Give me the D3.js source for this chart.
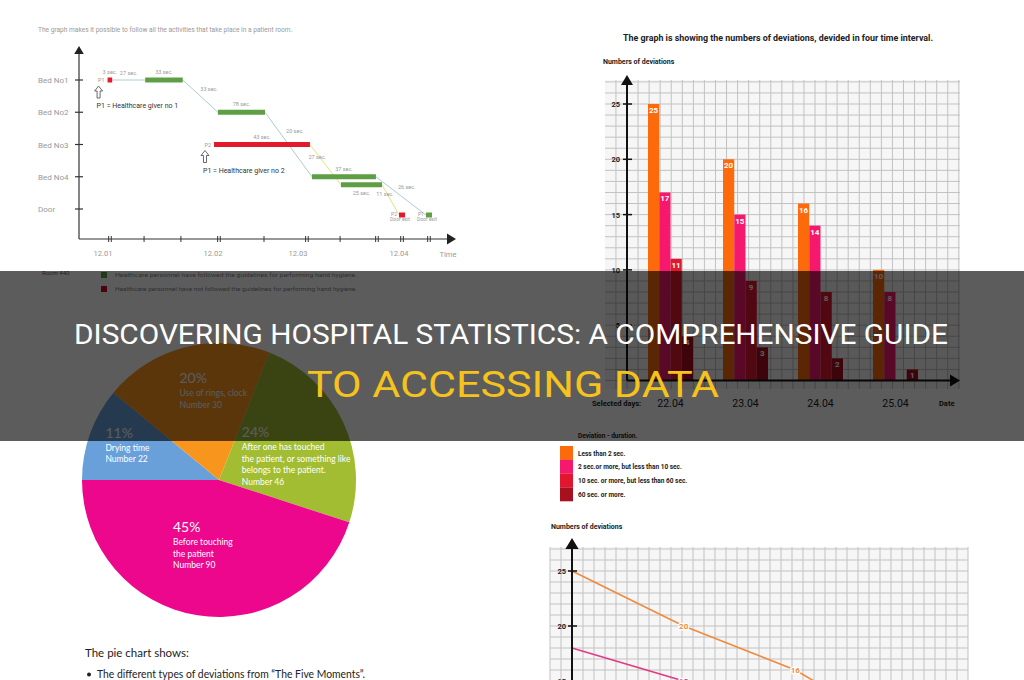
<!DOCTYPE html>
<html>
<head>
<meta charset="utf-8">
<title>Discovering hospital statistics</title>
<script src="https://d3js.org/d3.v7.min.js"></script>
<style>
  body { margin: 0; background: #fff; }
  svg { display: block; font-family: Roboto, "Liberation Sans", sans-serif; }
</style>
</head>
<body>
<div id="chart"></div>
<script>
// ---- timeline (room 440) ----
const beds = ["Bed No1", "Bed No2", "Bed No3", "Bed No4", "Door"];
const timeLabels = ["12.01", "12.02", "12.03", "12.04"];
const timeSecs = [60, 120, 180, 240];          // seconds after 12:00
const tickSecs = [63.8, 82.4, 102.5, 124.2, 156, 185.3, 205, 226.9, 241.8, 257.8];
const tickDouble = [true, false, false, true, false, true, false, true, true, true];

const actWho = ["P1", "P1", "P1", "P2", "P1", "P2", "P2", "P1"];
const actBed = ["Bed No1", "Bed No1", "Bed No2", "Bed No3", "Bed No4", "Bed No4", "Door", "Door"];
const actStart = [62.5, 83, 123.5, 120.7, 188.3, 205.5, 240, 256];
const actEnd = [65, 103.5, 156.7, 187.1, 226.3, 229.9, 243.6, 259.6];
const actFollowed = [false, true, true, false, true, true, false, true];
const actLabel = ["3 sec.", "33 sec.", "78 sec.", "43 sec.", "37 sec.", "25 sec.", "", ""];
const moveLabels = { P1: ["27 sec.", "33 sec.", "20 sec.", "26 sec."], P2: ["27 sec.", "11 sec."] };
const giverText = { P1: "P1 = Healthcare giver no 1", P2: "P1 = Healthcare giver no 2" };
const legendTexts = [
  "Healthcare personnel have followed the guidelines for performing hand hygiene.",
  "Healthcare personnel have not followed the guidelines for performing hand hygiene."
];

// ---- bar chart ----
const days = ["22.04", "23.04", "24.04", "25.04"];
const durations = ["Less than 2 sec.", "2 sec.or more, but less than 10 sec.",
  "10 sec. or more, but less than 60 sec.", "60 sec. or more."];
const lessThan2 = [25, 20, 16, 10];
const from2to10 = [17, 15, 14, 8];
const from10to60 = [11, 9, 8, 0];
const over60 = [4, 3, 2, 1];
const durColors = ["#fc6a0c", "#f5186c", "#e2172f", "#a8101f"];
const barTicks = [5, 10, 15, 20, 25];

// ---- pie ----
const pieNames = [["Drying time"], ["Use of rings, clock"],
  ["After one has touched", "the patient, or something like", "belongs to the patient."],
  ["Before touching", "the patient"]];
const piePercents = [11, 20, 24, 45];
const pieNumbers = [22, 30, 46, 90];
const pieColors = ["#6aa0da", "#f8951d", "#a2bd32", "#ec078c"];

// ---- line chart ----
const lineLess2 = [25, 20, 16, 10];
const line2to10 = [18, 15, 14, 8];
const lineColors = ["#f08a3c", "#e33a86"];
const lineTicks = [15, 20, 25];

const svg = d3.select("#chart").append("svg").attr("width", 1024).attr("height", 680);

function arrowHead(g, x, y, dir, size, color) {
  const s = size;
  const pts = dir === "up" ? [[x, y], [x - s * 0.6, y + s], [x + s * 0.6, y + s]]
    : [[x, y], [x - s, y - s * 0.6], [x - s, y + s * 0.6]];
  g.append("path").attr("d", d3.line()(pts) + "Z").attr("fill", color);
}

// =========== TIMELINE ===========
const tl = svg.append("g");
const xT = d3.scaleLinear().domain(timeSecs).range([103, 213, 298, 399]);
const yT = d3.scalePoint().domain(beds).range([80, 209]);

tl.append("text").attr("x", 38).attr("y", 32).attr("font-size", 6.6).attr("fill", "#999")
  .text("The graph makes it possible to follow all the activities that take place in a patient room.");

tl.append("line").attr("x1", 79).attr("x2", 79).attr("y1", 239).attr("y2", 52)
  .attr("stroke", "#333").attr("stroke-width", 1.2);
arrowHead(tl, 79, 46, "up", 8, "#222");
tl.append("line").attr("x1", 79).attr("x2", 450).attr("y1", 239).attr("y2", 239)
  .attr("stroke", "#333").attr("stroke-width", 1.2);
arrowHead(tl, 456, 239, "right", 9, "#222");

tl.selectAll(".bedlab").data(beds).join("text")
  .attr("x", 38).attr("y", d => yT(d) + 3).attr("font-size", 8).attr("fill", "#999").text(d => d);
tl.selectAll(".ytick").data(beds).join("line")
  .attr("x1", 75).attr("x2", 83).attr("y1", d => yT(d)).attr("y2", d => yT(d))
  .attr("stroke", "#333").attr("stroke-width", 1.2);

tickSecs.forEach((s, i) => {
  const offs = tickDouble[i] ? [-1.3, 1.3] : [0];
  offs.forEach(o => tl.append("line").attr("x1", xT(s) + o).attr("x2", xT(s) + o)
    .attr("y1", 236).attr("y2", 242).attr("stroke", "#333").attr("stroke-width", 1));
});
tl.selectAll(".tlab").data(timeLabels).join("text")
  .attr("x", (d, i) => xT(timeSecs[i])).attr("y", 256).attr("text-anchor", "middle")
  .attr("font-size", 7.5).attr("fill", "#999").text(d => d);
tl.append("text").attr("x", 448).attr("y", 257).attr("text-anchor", "middle")
  .attr("font-size", 7.5).attr("fill", "#999").text("Time");

const acts = actWho.map((w, i) => ({ who: w, bed: actBed[i], start: actStart[i], end: actEnd[i],
  ok: actFollowed[i], label: actLabel[i], i }));
acts.forEach(a => {
  a.lane = acts.filter(b => b.i < a.i && b.bed === a.bed && b.start < a.end && a.start < b.end).length;
  a.y = yT(a.bed) + a.lane * 8 + (a.bed === "Door" ? 6 : 0);
});

// movement lines
["P1", "P2"].forEach(who => {
  const seq = acts.filter(a => a.who === who).sort((a, b) => a.start - b.start);
  for (let k = 0; k < seq.length - 1; k++) {
    const x1 = xT(seq[k].end), y1 = seq[k].y, x2 = xT(seq[k + 1].start), y2 = seq[k + 1].y;
    tl.append("line").attr("x1", x1).attr("y1", y1).attr("x2", x2).attr("y2", y2)
      .attr("stroke", who === "P1" ? "#aecbd8" : "#e6e27c").attr("stroke-width", 1);
    const t = y1 === y2 ? 0.5 : 0.3;
    const mx = x1 + (x2 - x1) * t, my = y1 + (y2 - y1) * t;
    const lab = tl.append("text").attr("font-size", 5.5).attr("fill", "#999").text(moveLabels[who][k]);
    if (y1 === y2) lab.attr("x", mx).attr("y", my - 5).attr("text-anchor", "middle");
    else if (who === "P1") lab.attr("x", mx + 7).attr("y", my + 1);
    else lab.attr("x", mx - 2).attr("y", my + 2).attr("text-anchor", "middle");
  }
});

// activity bars
acts.forEach(a => {
  const x0 = xT(a.start), x1 = xT(a.end);
  tl.append("rect").attr("x", x0).attr("y", a.y - 2.5).attr("width", x1 - x0).attr("height", 5)
    .attr("fill", a.ok ? "#5e9f45" : "#e31a2c");
  if (a.label) {
    tl.append("text").attr("x", (x0 + x1) / 2).attr("y", a.lane ? a.y + 10 : a.y - 6)
      .attr("text-anchor", "middle").attr("font-size", 5.5).attr("fill", "#999").text(a.label);
  }
});

// person labels
["P1", "P2"].forEach(who => {
  const seq = acts.filter(a => a.who === who).sort((a, b) => a.start - b.start);
  const first = seq[0], last = seq[seq.length - 1];
  const fx = xT(first.start);
  tl.append("text").attr("x", fx - 3).attr("y", first.y + 2).attr("text-anchor", "end")
    .attr("font-size", 5.5).attr("fill", "#999").text(who);
  const ax = fx - 9, ay = first.y + 6;
  tl.append("path")
    .attr("d", `M${ax},${ay} l-4,5 h2.5 v7 h3 v-7 h2.5 Z`)
    .attr("fill", "none").attr("stroke", "#444").attr("stroke-width", 0.8);
  tl.append("text").attr("x", fx - 11).attr("y", first.y + 28).attr("font-size", 7)
    .attr("fill", "#333").text(giverText[who]);
  const lx = xT(last.start);
  tl.append("text").attr("x", lx - 2).attr("y", last.y + 1).attr("text-anchor", "end")
    .attr("font-size", 5).attr("fill", "#999").text(who);
  tl.append("text").attr("x", lx + 1).attr("y", last.y + 6).attr("text-anchor", "middle")
    .attr("font-size", 5).attr("fill", "#999").text("Door exit");
});

// room legend
tl.append("text").attr("x", 42).attr("y", 275).attr("font-size", 6).attr("fill", "#666").text("Room 440");
legendTexts.forEach((t, i) => {
  tl.append("rect").attr("x", 101).attr("y", 272 + i * 14).attr("width", 6).attr("height", 6)
    .attr("fill", i === 0 ? "#5e9f45" : "#c8102e");
  tl.append("text").attr("x", 115).attr("y", 277 + i * 14).attr("font-size", 5.5)
    .attr("fill", "#888").attr("textLength", 242).attr("lengthAdjust", "spacingAndGlyphs").text(t);
});

// =========== GRID HELPER ===========
function grid(g, x0, x1, y0, y1, ox, oy, cell) {
  const xs = [], ys = [];
  for (let k = Math.ceil((x0 - ox) / cell); ox + k * cell <= x1; k++) xs.push(ox + k * cell);
  for (let k = Math.ceil((y0 - oy) / cell); oy + k * cell <= y1; k++) ys.push(oy + k * cell);
  g.append("rect").attr("x", x0).attr("y", y0).attr("width", x1 - x0).attr("height", y1 - y0).attr("fill", "#f6f6f6");
  g.selectAll(null).data(xs).join("line").attr("x1", d => d).attr("x2", d => d)
    .attr("y1", y0).attr("y2", y1).attr("stroke", "#c2c2c2").attr("stroke-width", 1);
  g.selectAll(null).data(ys).join("line").attr("y1", d => d).attr("y2", d => d)
    .attr("x1", x0).attr("x2", x1).attr("stroke", "#c2c2c2").attr("stroke-width", 1);
}

// =========== BAR CHART ===========
const bc = svg.append("g");
bc.append("text").attr("x", 778).attr("y", 41).attr("text-anchor", "middle").attr("font-size", 9)
  .attr("font-weight", "bold").attr("fill", "#222").attr("textLength", 310).attr("lengthAdjust", "spacingAndGlyphs")
  .text("The graph is showing the numbers of deviations, devided in four time interval.");
bc.append("text").attr("x", 603).attr("y", 64).attr("font-size", 7).attr("font-weight", "bold")
  .attr("fill", "#222").text("Numbers of deviations");

const yB = d3.scaleLinear().domain([0, 25]).range([380.5, 104]);
const xB = d3.scaleBand().domain(days).range([648, 918]).paddingInner(0.4);
const xD = d3.scaleBand().domain(durations).range([0, xB.bandwidth()]);
const cellB = yB(0) - yB(1);
grid(bc, 605, 960, 80, 389, 627, yB(0), cellB);

const barSeries = [lessThan2, from2to10, from10to60, over60];
const barRows = [];
days.forEach((d, i) => durations.forEach((s, j) => barRows.push({ day: d, dur: s, j, v: barSeries[j][i] })));
bc.selectAll(".bar").data(barRows.filter(r => r.v > 0)).join("rect")
  .attr("x", r => xB(r.day) + xD(r.dur)).attr("width", xD.bandwidth())
  .attr("y", r => yB(r.v)).attr("height", r => yB(0) - yB(r.v)).attr("fill", r => durColors[r.j]);
bc.selectAll(".blab").data(barRows.filter(r => r.v > 0)).join("text")
  .attr("x", r => xB(r.day) + xD(r.dur) + xD.bandwidth() / 2).attr("y", r => yB(r.v) + 9)
  .attr("text-anchor", "middle").attr("font-size", 8).attr("font-weight", "bold").attr("fill", "#fff")
  .text(r => r.v);

bc.append("line").attr("x1", 627).attr("x2", 627).attr("y1", yB(0)).attr("y2", 84)
  .attr("stroke", "#111").attr("stroke-width", 2);
arrowHead(bc, 627, 75, "up", 10, "#111");
bc.append("line").attr("x1", 627).attr("x2", 950).attr("y1", yB(0)).attr("y2", yB(0))
  .attr("stroke", "#111").attr("stroke-width", 2);
arrowHead(bc, 960, yB(0), "right", 10, "#111");
bc.selectAll(".byt").data(barTicks).join("line").attr("x1", 623).attr("x2", 632)
  .attr("y1", d => yB(d)).attr("y2", d => yB(d)).attr("stroke", "#111").attr("stroke-width", 1.5);
bc.selectAll(".byl").data(barTicks).join("text").attr("x", 620).attr("y", d => yB(d) + 3)
  .attr("text-anchor", "end").attr("font-size", 7.5).attr("font-weight", "bold").attr("fill", "#222").text(d => d);

bc.append("text").attr("x", 592).attr("y", 406).attr("font-size", 7.5).attr("font-weight", "bold")
  .attr("fill", "#222").text("Selected days:");
bc.selectAll(".dlab").data(days).join("text").attr("x", d => xB(d) + xB.bandwidth() / 2).attr("y", 407)
  .attr("text-anchor", "middle").attr("font-size", 10.5).attr("fill", "#222").text(d => d);
bc.append("text").attr("x", 939).attr("y", 406).attr("font-size", 7.5).attr("font-weight", "bold")
  .attr("fill", "#222").text("Date");

bc.append("text").attr("x", 578).attr("y", 438).attr("font-size", 6.5).attr("font-weight", "bold")
  .attr("fill", "#222").text("Deviation - duration.");
durations.forEach((d, j) => {
  bc.append("rect").attr("x", 560).attr("y", 446 + j * 13.8).attr("width", 13).attr("height", 13.9).attr("fill", durColors[j]);
  bc.append("text").attr("x", 578).attr("y", 455.5 + j * 13.8).attr("font-size", 6.5).attr("font-weight", "bold")
    .attr("fill", "#222").text(d);
});

// =========== PIE ===========
const pg = svg.append("g").attr("transform", "translate(219,480)");
const R = 137;
const pie = d3.pie().sort(null).value(d => d).startAngle(-Math.PI / 2).endAngle(1.5 * Math.PI);
const arcs = pie(piePercents);
pg.selectAll("path").data(arcs).join("path").attr("d", d3.arc().innerRadius(0).outerRadius(R))
  .attr("fill", (d, i) => pieColors[i]);
const labArc = d3.arc().innerRadius(R * 0.6).outerRadius(R * 0.6);
// small hand nudges so the label blocks sit where the original put them
const labNudge = [[-14, -4], [15, -7], [3, 14], [-3, -13]];
arcs.forEach((a, i) => {
  const c = labArc.centroid(a);
  const lg = pg.append("g").attr("font-family", "Lato, 'Open Sans', sans-serif").attr("fill", "#fff");
  lg.append("text").attr("x", 0).attr("y", 0).attr("font-size", 14).text(piePercents[i] + "%");
  const lines = pieNames[i].concat(["Number " + pieNumbers[i]]);
  lines.forEach((t, k) => lg.append("text").attr("x", 0).attr("y", 13 + k * 11.5).attr("font-size", 8.5).text(t));
  const bb = lg.node().getBBox();
  lg.attr("transform", `translate(${c[0] - bb.width / 2 + labNudge[i][0]},${c[1] - bb.height / 2 + 10 + labNudge[i][1]})`);
});

svg.append("text").attr("x", 85).attr("y", 657).attr("font-family", "Lato, sans-serif").attr("font-size", 11.5)
  .attr("fill", "#222").text("The pie chart shows:");
svg.append("circle").attr("cx", 89).attr("cy", 674.5).attr("r", 2).attr("fill", "#222");
svg.append("text").attr("x", 97).attr("y", 678).attr("font-family", "Lato, sans-serif").attr("font-size", 11)
  .attr("fill", "#222").attr("textLength", 268).attr("lengthAdjust", "spacingAndGlyphs")
  .text("The different types of deviations from \u201CThe Five Moments\u201D.");

// =========== LINE CHART ===========
const lc = svg.append("g");
lc.append("text").attr("x", 551).attr("y", 529).attr("font-size", 7).attr("font-weight", "bold")
  .attr("fill", "#222").text("Numbers of deviations");
const yL = d3.scaleLinear().domain([0, 25]).range([846, 571]);
const xL = d3.scalePoint().domain(days).range([572, 907]);
grid(lc, 550, 968, 547, 680, 572, yL(25), yL(0) - yL(1));

[lineLess2, line2to10].forEach((s, j) => {
  lc.append("path").datum(s).attr("fill", "none").attr("stroke", lineColors[j]).attr("stroke-width", 1.6)
    .attr("d", d3.line().x((d, i) => xL(days[i])).y(d => yL(d)));
  lc.selectAll(null).data(s.slice(1)).join("text")
    .attr("x", (d, i) => xL(days[i + 1])).attr("y", d => yL(d) + 3).attr("text-anchor", "middle")
    .attr("font-size", 8).attr("font-weight", "bold").attr("fill", lineColors[j])
    .attr("stroke", "#fff").attr("stroke-width", 2.5).attr("paint-order", "stroke").text(d => d);
});
lc.append("line").attr("x1", 572).attr("x2", 572).attr("y1", 680).attr("y2", 548)
  .attr("stroke", "#111").attr("stroke-width", 2);
arrowHead(lc, 572, 538, "up", 11, "#111");
lc.selectAll(".lyt").data(lineTicks).join("line").attr("x1", 568).attr("x2", 577)
  .attr("y1", d => yL(d)).attr("y2", d => yL(d)).attr("stroke", "#111").attr("stroke-width", 1.5);
lc.selectAll(".lyl").data(lineTicks).join("text").attr("x", 566).attr("y", d => yL(d) + 3)
  .attr("text-anchor", "end").attr("font-size", 7.5).attr("font-weight", "bold").attr("fill", "#222").text(d => d);

// =========== OVERLAY BAND + TITLE ===========
svg.append("rect").attr("x", 0).attr("y", 271).attr("width", 1024).attr("height", 170)
  .attr("fill", "#000").attr("opacity", 0.64);
svg.append("text").attr("x", 511).attr("y", 344).attr("text-anchor", "middle").attr("font-size", 27)
  .attr("fill", "#fff").attr("textLength", 874).attr("lengthAdjust", "spacingAndGlyphs")
  .text("DISCOVERING HOSPITAL STATISTICS: A COMPREHENSIVE GUIDE");
svg.append("text").attr("x", 513).attr("y", 397).attr("text-anchor", "middle").attr("font-size", 37)
  .attr("fill", "#f6c21c").attr("textLength", 412).attr("lengthAdjust", "spacingAndGlyphs")
  .text("TO ACCESSING DATA");
</script>
</body>
</html>
